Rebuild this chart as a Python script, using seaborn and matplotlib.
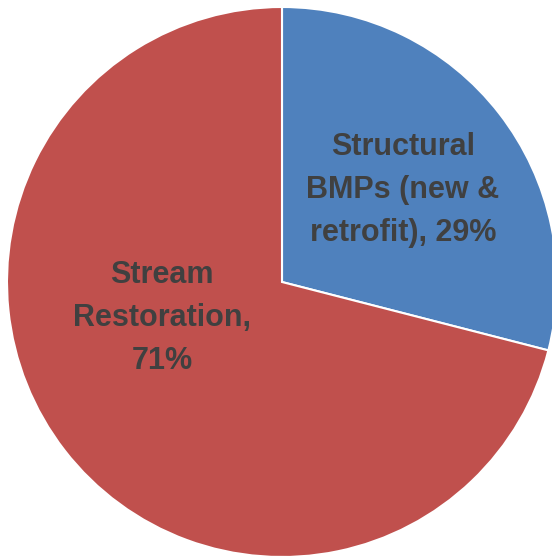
import matplotlib
matplotlib.use('Agg')
import matplotlib.pyplot as plt
import seaborn as sns
from matplotlib import font_manager

categories = ['Structural\nBMPs (new &\nretrofit),', 'Stream\nRestoration,\n']
shares = [29, 71]
colors = ['#4F81BD', '#C0504D']

sns.set_style('white')
names = {f.name for f in font_manager.fontManager.ttflist}
family = ['Liberation Sans Narrow'] if 'Liberation Sans Narrow' in names else ['Liberation Sans', 'DejaVu Sans']
plt.rcParams['font.family'] = family

fig = plt.figure(figsize=(5.52, 5.56), dpi=100)
ax = fig.add_axes([7 / 552, -1 / 556, 550 / 552, 550 / 556])

wedges, _ = ax.pie(shares, colors=colors, startangle=90, counterclock=False,
                   radius=1.0, wedgeprops=dict(edgecolor='white', linewidth=1.5))
ax.set_xlim(-1, 1)
ax.set_ylim(-1, 1)
ax.set_aspect('equal')
ax.axis('off')

# label positions (data coords, chosen to match the original layout)
label_pos = [(0.44, 0.335), (-0.436, -0.131)]
for cat, val, (x, y) in zip(categories, shares, label_pos):
    sep = '' if cat.endswith('\n') else ' '
    ax.text(x, y, f'{cat}{sep}{val}%', ha='center', va='center', fontsize=22,
            fontweight='bold', color='#404040', linespacing=1.58)

fig.savefig('out.png', dpi=100)
